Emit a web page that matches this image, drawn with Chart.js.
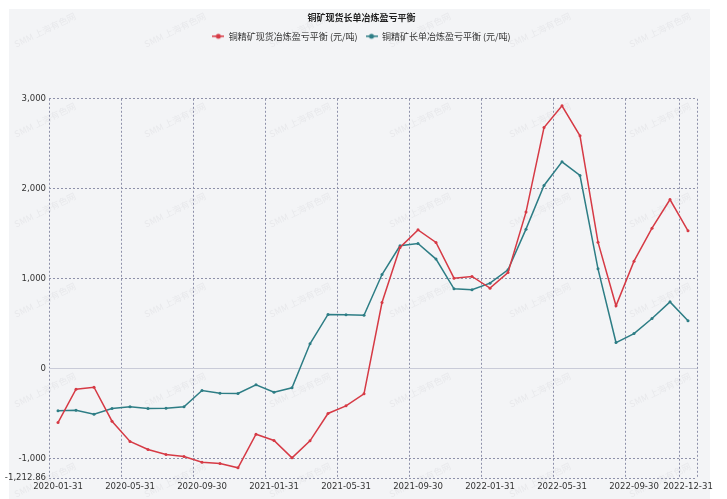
<!DOCTYPE html>
<html>
<head>
<meta charset="utf-8">
<script src="https://cdn.jsdelivr.net/npm/chart.js@4"></script>
<style>
  html, body { margin: 0; padding: 0; background: #fff; }
  #wrap { position: relative; width: 727px; height: 499px; }
  #bg { position: absolute; left: 9px; top: 9px; width: 701px; height: 490px; background: #f3f4f6; }
  #copperChart { position: absolute; left: 0; top: 0; }
</style>
</head>
<body>
<div id="wrap">
  <div id="bg"></div>
  <canvas id="copperChart" width="727" height="499"></canvas>
</div>
<script>
// month-end dates on the x axis
const months = [
  '2020-01-31', '2020-02-29', '2020-03-31', '2020-04-30', '2020-05-31', '2020-06-30',
  '2020-07-31', '2020-08-31', '2020-09-30', '2020-10-31', '2020-11-30', '2020-12-31',
  '2021-01-31', '2021-02-28', '2021-03-31', '2021-04-30', '2021-05-31', '2021-06-30',
  '2021-07-31', '2021-08-31', '2021-09-30', '2021-10-31', '2021-11-30', '2021-12-31',
  '2022-01-31', '2022-02-28', '2022-03-31', '2022-04-30', '2022-05-31', '2022-06-30',
  '2022-07-31', '2022-08-31', '2022-09-30', '2022-10-31', '2022-11-30', '2022-12-31'
]

// 铜精矿现货 (yuan/t)
const spotBalance = [
  -597, -226, -204, -582, -807, -896, -952, -974, -1037, -1052, -1100, -726,
  -796, -989, -800, -496, -411, -278, 737, 1348, 1544, 1404, 1007, 1026,
  896, 1070, 1741, 2681, 2922, 2589, 1407, 700, 1196, 1563, 1881, 1533
]

// 铜精矿长单 (yuan/t)
const longTermBalance = [
  -467, -459, -504, -441, -422, -441, -437, -422, -241, -270, -274, -178,
  -259, -211, 278, 604, 600, 596, 1048, 1367, 1393, 1219, 889, 878,
  952, 1100, 1552, 2037, 2300, 2148, 1111, 292, 392, 559, 744, 533
]

// only these dates get a label + grid line
const shownDates = [
  '2020-01-31', '2020-05-31', '2020-09-30', '2021-01-31', '2021-05-31',
  '2021-09-30', '2022-01-31', '2022-05-31', '2022-09-30', '2022-12-31'
]

const yTicks = [-1212.86, -1000, 0, 1000, 2000, 3000]

const spotColor = '#d63a45'
const longColor = '#2d7d85'
const gridColor = '#8e91aa'
const narrowFont = "'DejaVu Sans Condensed', 'Liberation Sans', sans-serif"
const cjkFont = "'Noto Sans CJK SC', sans-serif"

// little line-with-dot marker for the legend
function legendMarker (color) {
  const c = document.createElement('canvas')
  c.width = 12
  c.height = 8
  const g = c.getContext('2d')
  g.strokeStyle = color
  g.lineWidth = 1.5
  g.beginPath()
  g.moveTo(0, 4)
  g.lineTo(12, 4)
  g.stroke()
  g.fillStyle = color
  g.beginPath()
  g.arc(6, 4, 2.5, 0, Math.PI * 2)
  g.fill()
  return c
}

// push the plot area down below the legend
const legendGap = {
  id: 'legendGap',
  beforeInit (chart) {
    const fit = chart.legend.fit
    chart.legend.fit = function () {
      fit.bind(chart.legend)()
      this.height += 48
    }
  },
  // title + legend sit centred on the whole picture, not the plot
  afterLayout (chart) {
    [chart.titleBlock, chart.legend].forEach(box => {
      box.left += 13
      box.right += 13
    })
  }
}

// faint SMM watermark
const wmX = [45, 175, 300, 420, 540, 660]
const wmY = [30, 120, 210, 300, 390, 480]
const watermark = {
  id: 'watermark',
  beforeDraw (chart) {
    const { ctx } = chart
    ctx.save()
    ctx.font = '9px ' + cjkFont
    ctx.fillStyle = 'rgba(140, 140, 150, 0.10)'
    ctx.textAlign = 'center'
    ctx.textBaseline = 'middle'
    wmY.forEach(y => {
      wmX.forEach(x => {
        ctx.save()
        ctx.translate(x, y)
        ctx.rotate(-0.45)
        ctx.fillText('SMM 上海有色网', 0, 0)
        ctx.restore()
      })
    })
    ctx.restore()
  }
}

new Chart(document.getElementById('copperChart'), {
  type: 'line',
  plugins: [legendGap, watermark],
  data: {
    labels: months,
    datasets: [
      {
        label: '铜精矿现货冶炼盈亏平衡 (元/吨)',
        data: spotBalance,
        borderColor: spotColor,
        backgroundColor: spotColor,
        borderWidth: 1.5,
        pointRadius: 1.5,
        pointBorderWidth: 0,
        tension: 0
      },
      {
        label: '铜精矿长单冶炼盈亏平衡 (元/吨)',
        data: longTermBalance,
        borderColor: longColor,
        backgroundColor: longColor,
        borderWidth: 1.5,
        pointRadius: 1.5,
        pointBorderWidth: 0,
        tension: 0
      }
    ]
  },
  options: {
    responsive: false,
    animation: false,
    devicePixelRatio: 1,
    layout: { padding: { left: 0, right: 30, top: 0, bottom: 0 } },
    plugins: {
      title: {
        display: true,
        text: '铜矿现货长单冶炼盈亏平衡',
        color: '#222',
        font: { family: cjkFont, size: 9, weight: 'bold' },
        padding: { top: 12, bottom: 1 }
      },
      legend: {
        labels: {
          color: '#333',
          font: { family: cjkFont, size: 9 },
          padding: 8,
          usePointStyle: true,
          pointStyleWidth: 12,
          generateLabels (chart) {
            return Chart.defaults.plugins.legend.labels.generateLabels(chart).map(item => ({
              ...item,
              pointStyle: legendMarker(item.strokeStyle)
            }))
          }
        }
      },
      tooltip: { enabled: false }
    },
    scales: {
      x: {
        offset: true,
        afterFit: axis => { axis.height = 21 },
        border: { display: false, dash: [2, 2] },
        grid: {
          offset: true,
          drawTicks: false,
          color: ctx => (ctx.type !== 'tick' || shownDates.includes(months[ctx.index])) ? gridColor : 'transparent'
        },
        ticks: {
          autoSkip: false,
          maxRotation: 0,
          minRotation: 0,
          padding: 3,
          color: '#333',
          font: { family: narrowFont, size: 9.5 },
          callback: (v, i) => shownDates.includes(months[i]) ? months[i] : ''
        }
      },
      y: {
        min: -1212.86,
        max: 3000,
        afterBuildTicks: axis => { axis.ticks = yTicks.map(value => ({ value })) },
        afterFit: axis => { axis.width = 49 },
        border: {
          display: false,
          dash: ctx => (ctx.tick && ctx.tick.value === 0) ? [] : [2, 2]
        },
        grid: {
          drawTicks: false,
          color: ctx => (ctx.tick && ctx.tick.value === 0) ? '#c9cbd8' : gridColor
        },
        ticks: {
          padding: 3,
          color: '#333',
          font: { family: narrowFont, size: 9.5 },
          callback: v => v.toLocaleString('en-US')
        }
      }
    }
  }
})
</script>
</body>
</html>
